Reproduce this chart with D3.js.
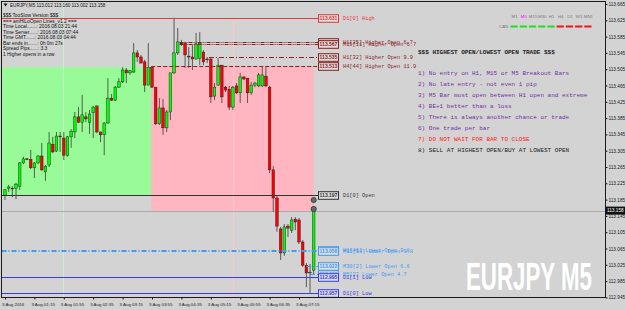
<!DOCTYPE html>
<meta charset="utf-8">
<script src="https://cdn.jsdelivr.net/npm/d3@7"></script>
<style>
  body { margin: 0; background: #d3d3d3; }
  text { font-family: "Liberation Sans", Arial, sans-serif; }
  .mono { font-family: "Liberation Mono", "Courier New", monospace; }
</style>
<div id="chart"></div>
<script>

// EURJPY M5 candles, one entry per bar
var opens  = [113.196,113.213,113.213,113.213,113.218,113.275,113.285,113.284,113.263,113.275,
              113.292,113.253,113.270,113.321,113.304,113.341,113.336,113.294,113.339,113.351,
              113.388,113.375,113.388,113.375,113.398,113.415,113.351,113.344,113.373,113.434,
              113.429,113.461,113.474,113.503,113.496,113.498,113.545,113.535,113.523,113.466,
              113.510,113.461,113.371,113.410,113.361,113.400,113.496,113.545,113.569,113.569,
              113.537,113.535,113.530,113.532,113.547,113.530,113.530,113.439,113.466,113.515,
              113.461,113.456,113.412,113.464,113.447,113.486,113.483,113.447,113.466,113.464,
              113.464,113.488,113.461,113.258,113.189,113.113,113.054,113.120,113.110,113.137,
              113.135,113.081,113.024,113.005,113.012];
var highs  = [113.211,113.221,113.218,113.226,113.277,113.290,113.287,113.307,113.277,113.294,
              113.324,113.270,113.351,113.339,113.351,113.351,113.351,113.341,113.358,113.400,
              113.412,113.442,113.400,113.405,113.415,113.415,113.351,113.375,113.483,113.444,
              113.464,113.483,113.510,113.508,113.503,113.569,113.552,113.540,113.528,113.569,
              113.510,113.461,113.434,113.432,113.405,113.496,113.631,113.606,113.577,113.572,
              113.559,113.564,113.594,113.596,113.552,113.535,113.532,113.471,113.532,113.515,
              113.464,113.464,113.464,113.471,113.496,113.488,113.483,113.474,113.474,113.496,
              113.510,113.510,113.464,113.267,113.194,113.118,113.125,113.125,113.142,113.142,
              113.140,113.086,113.029,113.027,113.160];
var lows   = [113.184,113.204,113.191,113.186,113.209,113.272,113.282,113.260,113.238,113.272,
              113.255,113.231,113.265,113.299,113.302,113.302,113.282,113.290,113.312,113.336,
              113.373,113.351,113.375,113.346,113.336,113.348,113.326,113.294,113.371,113.427,
              113.427,113.459,113.471,113.471,113.491,113.496,113.523,113.520,113.449,113.466,
              113.459,113.368,113.368,113.344,113.351,113.380,113.493,113.540,113.562,113.508,
              113.508,113.503,113.528,113.515,113.515,113.520,113.422,113.429,113.464,113.422,
              113.449,113.405,113.405,113.444,113.422,113.478,113.422,113.442,113.461,113.461,
              113.461,113.461,113.250,113.155,113.106,113.037,113.047,113.093,113.103,113.110,
              113.076,113.020,112.970,112.956,113.002];
var closes = [113.209,113.216,113.212,113.223,113.275,113.285,113.284,113.263,113.275,113.292,
              113.258,113.267,113.324,113.302,113.341,113.340,113.294,113.339,113.353,113.388,
              113.375,113.393,113.383,113.395,113.412,113.351,113.344,113.373,113.434,113.429,
              113.461,113.474,113.503,113.496,113.501,113.545,113.535,113.520,113.466,113.510,
              113.461,113.371,113.410,113.361,113.400,113.496,113.545,113.572,113.567,113.540,
              113.535,113.530,113.567,113.569,113.523,113.528,113.437,113.461,113.515,113.437,
              113.454,113.412,113.461,113.447,113.486,113.481,113.447,113.466,113.471,113.491,
              113.491,113.464,113.258,113.189,113.120,113.054,113.118,113.115,113.135,113.130,
              113.081,113.024,113.005,113.007,113.158];

var timeTickBars = [0, 8, 16, 24, 32, 40, 48, 56, 64, 72, 80];
var timeLabels = ["3 Aug 2016", "3 Aug 01:15", "3 Aug 01:55", "3 Aug 02:35", "3 Aug 03:15", "3 Aug 03:55",
                  "3 Aug 04:35", "3 Aug 05:15", "3 Aug 05:55", "3 Aug 06:35", "3 Aug 07:15"];
var priceTicks = [113.665, 113.625, 113.585, 113.545, 113.505, 113.465, 113.425, 113.385, 113.345, 113.305,
                  113.265, 113.225, 113.185, 113.145, 113.105, 113.065, 113.025, 112.985, 112.945];
var bidPrice = 113.158;

// HiLo open levels
var levelNames = ["D1[0] High", "H1[35] Higher Open 6.7", "M15[11] Higher Open 6.7", "H1[32] Higher Open 9.9",
                  "H4[44] Higher Open 11.9", "D1[0] Open", "H1[46] Lower Open 9.8", "M15[14] Lower Open 9.8",
                  "M30[2] Lower Open 6.6", "M5[2] Lower Open 4.7", "D1[1] Low", "D1[0] Low"];
var levelPrices = [113.631, 113.572, 113.567, 113.535, 113.513, 113.197, 113.061, 113.058, 113.022, 113.002, 112.995, 112.957];
var levelStartBars = [-1, 47.5, 47.5, 55.5, 39.8, -1, -1, -1, 82, 83, -1, -1];
var levelKinds = ["high", "higher", "higher", "higher", "higher", "open", "lower", "lower", "lower", "lower", "low", "low"];

// zones: [startBar, endBar, topPrice, bottomPrice]
var buyZone = [-1, 39.8, 113.510, 113.197];
var sellZone = [39.8, 84, 113.513, 113.158];
var separatorBars = [15.8, 62];
var markerPrices = [113.184, 113.162];

var tfNames = ["M1", "M5", "M15", "M30", "H1", "H4", "D1", "W1", "MN1"];
var tfUp = [true, true, true, true, true, false, false, false, false];

var infoLines = ["$$$ TooSlow Version $$$", "=== amHiLoOpen Lines_v1.2 ===", "Time Local.......: 2016.08.03 21:44",
                 "Time Server......: 2016.08.03 07:44", "Time GMT.......: 2016.08.03 04:44", "Bar ends in.......: 0h 0m 27s",
                 "Spread Pips......: 3.3", "1 Higher opens in a row"];
var rulesTitle = "$$$ HIGHEST OPEN/LOWEST OPEN TRADE $$$";
var rules = ["1) No entry on H1, M15 or M5 Breakout Bars", "2) No late entry - not even 1 pip",
             "3) M5 Bar must open between H1 open and extreme", "4) BE+1 better than a loss",
             "5) There is always another chance or trade", "6) One trade per bar",
             "7) DO NOT WAIT FOR BAR TO CLOSE", "8) SELL AT HIGHEST OPEN/BUY AT LOWEST OPEN"];

// ---- styles
var kindColor = { high: "#e23a3a", higher: "#8b1e1e", open: "#333333", lower: "#3d9cf5", low: "#3a3ae8" };
var levelDash = [null, "4,1,1,1,1,1", "4,1,1,1,1,1", "5,2,1,2", "4,2", null, "5,2,1,2", "5,2,1,2", "5,2,1,2", "5,2,1,2", null, null];
var ruleColors = ["#7030a8", "#7030a8", "#7030a8", "#7030a8", "#7030a8", "#7030a8", "#ff1a1a", "#222222"];

var pL = 1.5, pR = 605.5, pT = 1.5, pB = 297.5;

var svg = d3.select("#chart")
  .append("svg")
    .attr("width", 625)
    .attr("height", 310)
    .style("background", "#d3d3d3");

var x = d3.scaleLinear().domain([0, 84]).range([5, 313.7]);
var y = d3.scaleLinear().domain([112.945, 113.665]).range([297.4, 4]);

svg.append("clipPath").attr("id", "plot")
  .append("rect").attr("x", pL).attr("y", pT).attr("width", pR - pL).attr("height", pB - pT);

var plot = svg.append("g").attr("clip-path", "url(#plot)");

// zones
function zone(z, color) {
  var x0 = Math.max(pL, x(z[0]));
  plot.append("rect")
    .attr("x", x0)
    .attr("y", y(z[2]))
    .attr("width", x(z[1]) - x0)
    .attr("height", y(z[3]) - y(z[2]))
    .attr("fill", color);
}
zone(buyZone, "#98fb98");
zone(sellZone, "#ffb6c1");

// period separators
plot.selectAll(".sep").data(separatorBars).enter().append("line")
  .attr("x1", function (d) { return Math.round(x(d)) + 0.5; })
  .attr("x2", function (d) { return Math.round(x(d)) + 0.5; })
  .attr("y1", function (d, i) { return i == 0 ? pT : y(levelPrices[0]); })
  .attr("y2", pB)
  .attr("stroke", function (d, i) { return i == 0 ? "#c2f5c2" : "#ffc4cc"; })
  .attr("stroke-width", 1);

// bid line
plot.append("line")
  .attr("x1", pL).attr("x2", pR)
  .attr("y1", Math.round(y(bidPrice)) + 0.5).attr("y2", Math.round(y(bidPrice)) + 0.5)
  .attr("stroke", "#a9a9a9");

// candles
var bars = d3.range(opens.length);
var candle = plot.selectAll(".candle").data(bars).enter().append("g");
candle.append("line")
  .attr("x1", function (i) { return x(i); })
  .attr("x2", function (i) { return x(i); })
  .attr("y1", function (i) { return y(highs[i]); })
  .attr("y2", function (i) { return y(lows[i]); })
  .attr("stroke", "#3a3a3a")
  .attr("stroke-width", 0.8);
candle.append("rect")
  .attr("x", function (i) { return x(i) - 1.3; })
  .attr("width", 2.6)
  .attr("y", function (i) { return y(Math.max(opens[i], closes[i])); })
  .attr("height", function (i) { return Math.max(0.8, Math.abs(y(opens[i]) - y(closes[i]))); })
  .attr("fill", function (i) { return closes[i] >= opens[i] ? "#00ff00" : "#ff0000"; })
  .attr("stroke", "#1e1e1e")
  .attr("stroke-width", 0.45);

// markers on the last bar
plot.selectAll(".mark").data(markerPrices).enter().append("circle")
  .attr("cx", x(84)).attr("cy", function (d) { return y(d); })
  .attr("r", 2.6)
  .attr("fill", "#6a6a6a").attr("stroke", "#2a2a2a").attr("stroke-width", 0.7);

// level lines
var boxX = 318, boxW = 20;
plot.selectAll(".lvl").data(levelPrices).enter().append("line")
  .attr("x1", function (d, i) { return Math.max(pL, x(levelStartBars[i])); })
  .attr("x2", boxX)
  .attr("y1", function (d) { return Math.round(y(d)) + 0.5; })
  .attr("y2", function (d) { return Math.round(y(d)) + 0.5; })
  .attr("stroke", function (d, i) { return kindColor[levelKinds[i]]; })
  .attr("stroke-width", 1)
  .attr("stroke-dasharray", function (d, i) { return levelDash[i]; });

// price boxes + names
var lbl = svg.append("g").selectAll("g").data(levelPrices).enter().append("g")
  .attr("transform", function (d) { return "translate(0," + (Math.round(y(d)) + 0.5) + ")"; });
lbl.append("rect")
  .attr("x", boxX + 0.5).attr("y", -3.8).attr("width", boxW).attr("height", 7.6)
  .attr("fill", "#dcdcdc")
  .attr("stroke", function (d, i) { return kindColor[levelKinds[i]]; })
  .attr("stroke-width", 1);
lbl.append("text")
  .attr("x", boxX + 0.5 + boxW / 2).attr("y", 0).attr("dy", "0.35em")
  .attr("text-anchor", "middle")
  .style("font-size", "5px").style("font-weight", "bold")
  .attr("fill", function (d, i) { return kindColor[levelKinds[i]]; })
  .text(function (d) { return d3.format(".3f")(d); });
lbl.append("text")
  .attr("class", "mono")
  .attr("x", 343).attr("y", 0).attr("dy", "0.35em")
  .style("font-size", "5.3px")
  .attr("fill", function (d, i) { return kindColor[levelKinds[i]]; })
  .text(function (d, i) { return levelNames[i]; });

// frame
svg.append("rect")
  .attr("x", pL).attr("y", pT).attr("width", pR - pL).attr("height", pB - pT)
  .attr("fill", "none").attr("stroke", "#1a1a1a").attr("stroke-width", 1);

// price axis
var yAxis = svg.append("g")
  .attr("transform", "translate(" + pR + ",0)")
  .call(d3.axisRight(y).tickValues(priceTicks).tickFormat(d3.format(".3f")).tickSize(2).tickPadding(1));
yAxis.select(".domain").remove();
yAxis.selectAll("line").attr("stroke", "#1a1a1a");
yAxis.selectAll("text").style("font-size", "4.7px").attr("fill", "#1a1a1a").style("font-family", "Liberation Sans");

// bid box
svg.append("rect").attr("x", 606).attr("y", y(bidPrice) - 4).attr("width", 19).attr("height", 8).attr("fill", "#111");
svg.append("text").attr("x", 607).attr("y", y(bidPrice)).attr("dy", "0.35em")
  .style("font-size", "4.7px").attr("fill", "#fff").text(d3.format(".3f")(bidPrice));

// time axis
var xAxis = svg.append("g")
  .attr("transform", "translate(0," + pB + ")")
  .call(d3.axisBottom(x).tickValues(timeTickBars).tickFormat(function (d, i) { return timeLabels[i]; }).tickSize(2).tickPadding(3));
xAxis.select(".domain").remove();
xAxis.selectAll("line").attr("stroke", "#1a1a1a");
xAxis.selectAll("text").attr("text-anchor", "start").attr("dx", -3.5)
  .style("font-size", "4.4px").attr("fill", "#1a1a1a").style("font-family", "Liberation Sans");

// header and info block
svg.append("path").attr("d", "M3.5,3.5 L7.5,3.5 L5.5,6.5 Z").attr("fill", "#111");
svg.append("text").attr("x", 10).attr("y", 5).attr("dy", "0.35em")
  .style("font-size", "4.6px").attr("fill", "#111")
  .text("EURJPY,M5 113.012 113.160 113.002 113.158");
svg.append("g").selectAll("text").data(infoLines).enter().append("text")
  .attr("x", 3).attr("y", function (d, i) { return 15.5 + i * 5.5; }).attr("dy", "0.35em")
  .style("font-size", "4.9px").attr("fill", "#111")
  .text(function (d) { return d; });

// timeframe trend panel
var tf = d3.scaleBand().domain(tfNames).range([510, 593]);
svg.append("g").selectAll("text").data(tfNames).enter().append("text")
  .attr("x", function (d) { return tf(d) + tf.bandwidth() / 2; }).attr("y", 16).attr("dy", "0.35em")
  .attr("text-anchor", "middle")
  .style("font-size", "4.4px")
  .attr("fill", function (d) { return d == "M5" ? "#ff00ff" : "#7a7a7a"; })
  .text(function (d) { return d; });
svg.append("text").attr("x", 499).attr("y", 26).attr("dy", "0.35em")
  .style("font-size", "4.4px").attr("fill", "#7a7a7a").text("CAN");
svg.append("g").selectAll("line").data(tfNames).enter().append("line")
  .attr("x1", function (d) { return tf(d) + 0.5; })
  .attr("x2", function (d) { return tf(d) + tf.bandwidth() - 1.5; })
  .attr("y1", 26.5).attr("y2", 26.5)
  .attr("stroke", function (d, i) { return tfUp[i] ? "#1fe01f" : "#f01414"; })
  .attr("stroke-width", 2);

// rules block
svg.append("text").attr("class", "mono")
  .attr("x", 418).attr("y", 52).attr("dy", "0.35em")
  .style("font-size", "6px").style("font-weight", "bold").attr("fill", "#222")
  .text(rulesTitle);
svg.append("g").selectAll("text").data(rules).enter().append("text")
  .attr("class", "mono")
  .attr("x", 418).attr("y", function (d, i) { return 73 + i * 11; }).attr("dy", "0.35em")
  .style("font-size", "6px")
  .attr("fill", function (d, i) { return ruleColors[i]; })
  .text(function (d) { return d; });

// watermark
svg.append("text")
  .attr("x", 466).attr("y", 290)
  .attr("textLength", 126).attr("lengthAdjust", "spacingAndGlyphs")
  .style("font-family", "'Liberation Sans Narrow', 'Liberation Sans', sans-serif")
  .style("font-size", "38px").style("font-weight", "bold")
  .attr("fill", "#ffffff")
  .text("EURJPY M5");

</script>
